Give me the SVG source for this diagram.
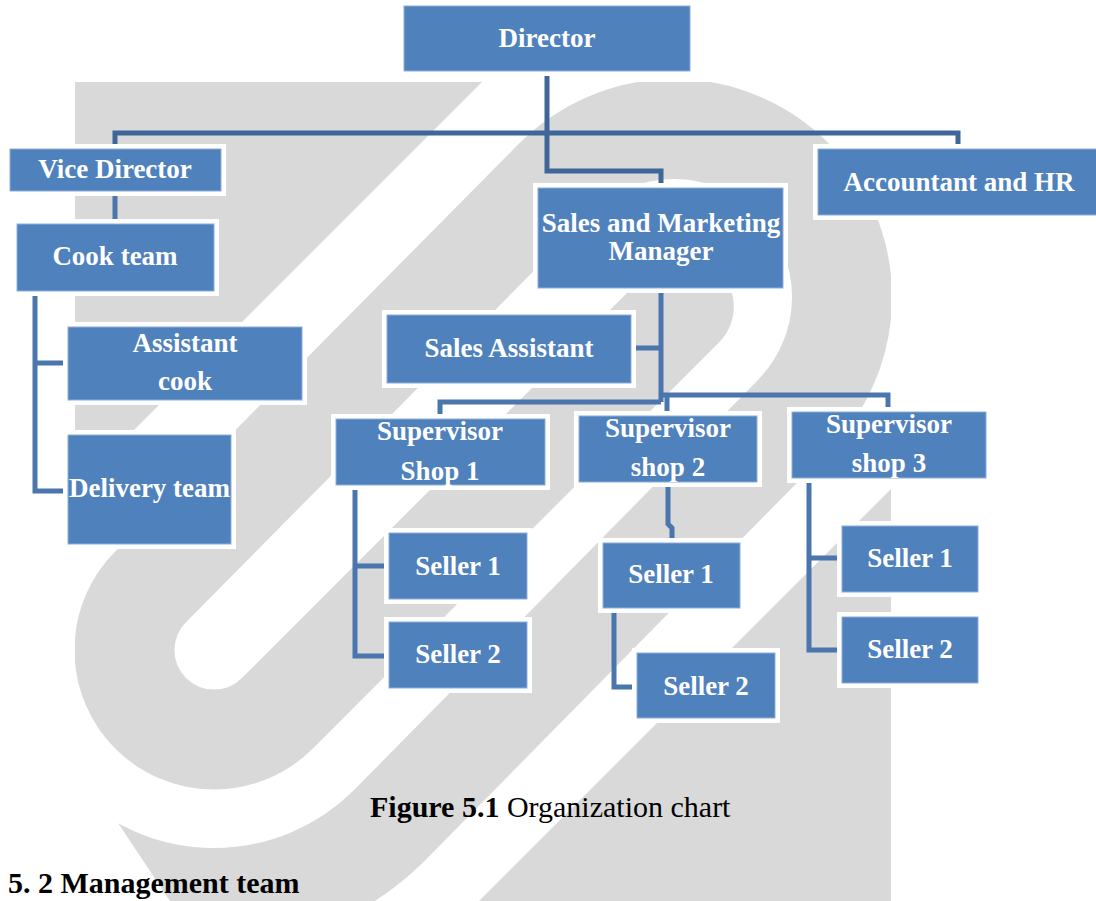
<svg xmlns="http://www.w3.org/2000/svg" width="1096" height="901" viewBox="0 0 1096 901">
<style>
.wm{fill:#d9d9d9}
.wms{fill:none;stroke:#d9d9d9;stroke-width:100;stroke-linecap:round;stroke-linejoin:round}
.halo{fill:#fff}
.box{fill:#4f81bd;stroke:#8eaedb;stroke-width:1}
.lbl{font-family:"Liberation Serif","Times New Roman",serif;font-weight:bold;font-size:27px;fill:#fff;text-anchor:middle}
.conn{fill:none;stroke:#4a75ad;stroke-width:5;stroke-linejoin:miter}
.top{stroke:#3f6698}
.cap{font-family:"Liberation Serif","Times New Roman",serif;font-size:30px;fill:#000}
</style>
<defs>
<clipPath id="wmclip"><polygon points="75,82 891,82 891,901 170,901 118,823 75,758"/></clipPath>
</defs>
<rect width="1096" height="901" fill="#fff"/>
<g id="watermark" clip-path="url(#wmclip)">
<polygon class="wm" points="75,82 482,82 75,489"/>
<path class="wms" d="M38.6,474.6 A248,248 0 0 0 38.6,825.4 A248,248 0 0 0 389.4,825.4 L792.8,415.8 A168,168 0 0 0 792.8,178.2 A168,168 0 0 0 555.2,178.2 L150.7,586.7 A89.5,89.5 0 0 0 150.7,713.3 A89.5,89.5 0 0 0 277.3,713.3 L683.8,306.8"/>
<polygon class="wm" points="891,489 891,901 479,901"/>
</g>
<g id="connectors">
<path class="conn top" d="M547,71 V171 H661 V188"/>
<path class="conn top" d="M115,149 V133 H958 V149"/>
<path class="conn" d="M115,191 V224"/>
<path class="conn" d="M35,292 V491 H68 M35,363 H68"/>
<path class="conn" d="M661,288 V402 M661,348 H632"/>
<path class="conn" d="M661,402 H440 V419"/>
<path class="conn" d="M661,395 H888 V412 M667,395 V416"/>
<path class="conn" d="M355,485 V656 H389 M355,566 H389"/>
<path class="conn" d="M668,482 V524 L672,528 V543"/>
<path class="conn" d="M614,608 V687 H637"/>
<path class="conn" d="M809,478 V650 H842 M809,558 H842"/>
</g>
<g id="director"><rect class="halo" x="399" y="1" width="296" height="75"/><rect class="box" x="404" y="6" width="286" height="65"/><text class="lbl" x="547" y="47">Director</text></g>
<g id="vice-director"><rect class="halo" x="5" y="144" width="221" height="52"/><rect class="box" x="10" y="149" width="211" height="42"/><text class="lbl" x="115" y="178">Vice Director</text></g>
<g id="accountant-hr"><rect class="halo" x="813" y="144" width="290" height="76"/><rect class="box" x="818" y="149" width="282" height="66"/><text class="lbl" x="959" y="191">Accountant and HR</text></g>
<g id="sales-marketing-manager"><rect class="halo" x="533" y="183" width="255" height="110"/><rect class="box" x="538" y="188" width="245" height="100"/><text class="lbl" x="661" y="232">Sales and Marketing</text><text class="lbl" x="661" y="260">Manager</text></g>
<g id="cook-team"><rect class="halo" x="12" y="219" width="207" height="77"/><rect class="box" x="17" y="224" width="197" height="67"/><text class="lbl" x="115" y="265">Cook team</text></g>
<g id="assistant-cook"><rect class="halo" x="63" y="322" width="244" height="83"/><rect class="box" x="68" y="327" width="234" height="73"/><text class="lbl" x="185" y="352">Assistant</text><text class="lbl" x="185" y="390">cook</text></g>
<g id="delivery-team"><rect class="halo" x="63" y="430" width="173" height="119"/><rect class="box" x="68" y="435" width="163" height="109"/><text class="lbl" x="149.5" y="497">Delivery team</text></g>
<g id="sales-assistant"><rect class="halo" x="382" y="310" width="254" height="78"/><rect class="box" x="387" y="315" width="244" height="68"/><text class="lbl" x="509" y="357">Sales Assistant</text></g>
<g id="supervisor-shop-1"><rect class="halo" x="331" y="414" width="219" height="76"/><rect class="box" x="336" y="419" width="209" height="66"/><text class="lbl" x="440" y="440">Supervisor</text><text class="lbl" x="440" y="480">Shop 1</text></g>
<g id="supervisor-shop-2"><rect class="halo" x="574" y="411" width="188" height="76"/><rect class="box" x="579" y="416" width="178" height="66"/><text class="lbl" x="668" y="437">Supervisor</text><text class="lbl" x="668" y="476">shop 2</text></g>
<g id="supervisor-shop-3"><rect class="halo" x="787" y="407" width="204" height="76"/><rect class="box" x="792" y="412" width="194" height="66"/><text class="lbl" x="889" y="433">Supervisor</text><text class="lbl" x="889" y="472">shop 3</text></g>
<g id="shop1-seller-1"><rect class="halo" x="384" y="528" width="148" height="76"/><rect class="box" x="389" y="533" width="138" height="66"/><text class="lbl" x="458" y="575">Seller 1</text></g>
<g id="shop1-seller-2"><rect class="halo" x="384" y="617" width="148" height="76"/><rect class="box" x="389" y="622" width="138" height="66"/><text class="lbl" x="458" y="663">Seller 2</text></g>
<g id="shop2-seller-1"><rect class="halo" x="598" y="538" width="147" height="75"/><rect class="box" x="603" y="543" width="137" height="65"/><text class="lbl" x="671" y="583">Seller 1</text></g>
<g id="shop2-seller-2"><rect class="halo" x="632" y="648" width="148" height="75"/><rect class="box" x="637" y="653" width="138" height="65"/><text class="lbl" x="706" y="695">Seller 2</text></g>
<g id="shop3-seller-1"><rect class="halo" x="837" y="521" width="146" height="76"/><rect class="box" x="842" y="526" width="136" height="66"/><text class="lbl" x="910" y="567">Seller 1</text></g>
<g id="shop3-seller-2"><rect class="halo" x="837" y="612" width="146" height="76"/><rect class="box" x="842" y="617" width="136" height="66"/><text class="lbl" x="910" y="658">Seller 2</text></g>
<text class="cap" x="370" y="817"><tspan font-weight="bold">Figure 5.1</tspan> Organization chart</text>
<text class="cap" x="8" y="893" font-weight="bold">5. 2 Management team</text>
</svg>
